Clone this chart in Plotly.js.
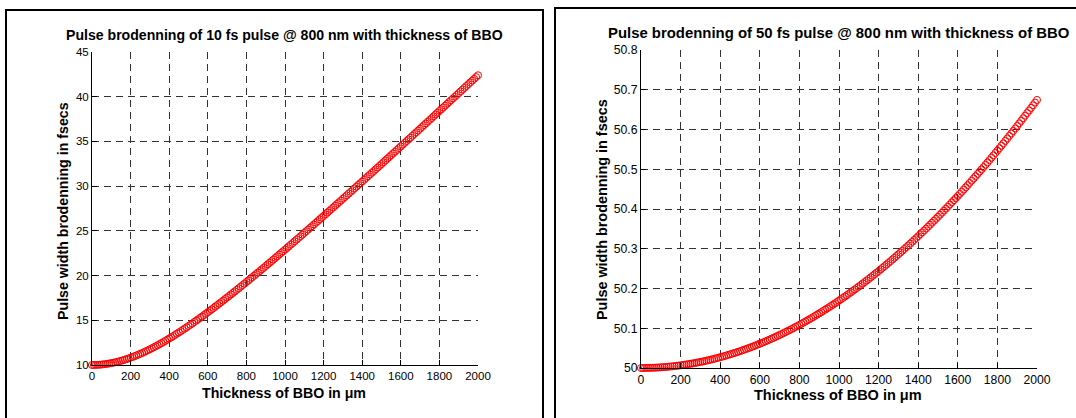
<!DOCTYPE html>
<html>
<head>
<meta charset="utf-8">
<script src="https://cdn.plot.ly/plotly-3.0.1.min.js"></script>
<style>html,body{margin:0;padding:0;background:#fff;}#chart{width:1076px;height:418px;}</style>
</head>
<body>
<div id="chart"></div>
<script>
// Thickness of BBO (µm), 10 µm steps
const thickness = [0,10,20,30,40,50,60,70,80,90,100,110,120,130,140,150,160,170,180,190,200,210,220,230,240,250,260,270,280,290,300,310,320,330,340,350,360,370,380,390,400,410,420,430,440,450,460,470,480,490,500,510,520,530,540,550,560,570,580,590,600,610,620,630,640,650,660,670,680,690,700,710,720,730,740,750,760,770,780,790,800,810,820,830,840,850,860,870,880,890,900,910,920,930,940,950,960,970,980,990,1000,1010,1020,1030,1040,1050,1060,1070,1080,1090,1100,1110,1120,1130,1140,1150,1160,1170,1180,1190,1200,1210,1220,1230,1240,1250,1260,1270,1280,1290,1300,1310,1320,1330,1340,1350,1360,1370,1380,1390,1400,1410,1420,1430,1440,1450,1460,1470,1480,1490,1500,1510,1520,1530,1540,1550,1560,1570,1580,1590,1600,1610,1620,1630,1640,1650,1660,1670,1680,1690,1700,1710,1720,1730,1740,1750,1760,1770,1780,1790,1800,1810,1820,1830,1840,1850,1860,1870,1880,1890,1900,1910,1920,1930,1940,1950,1960,1970,1980,1990,2000];

// Pulse width (fs) of the 10 fs pulse
const width10fs = [10.00,10.00,10.01,10.02,10.03,10.05,10.08,10.10,10.14,10.17,10.21,10.25,10.30,10.35,10.41,10.47,10.53,10.60,10.67,10.74,10.82,10.90,10.98,11.07,11.16,11.25,11.34,11.44,11.55,11.65,11.76,11.87,11.98,12.09,12.21,12.33,12.45,12.57,12.70,12.83,12.96,13.09,13.22,13.36,13.50,13.64,13.78,13.92,14.06,14.21,14.36,14.50,14.65,14.81,14.96,15.11,15.27,15.42,15.58,15.74,15.90,16.06,16.22,16.38,16.55,16.71,16.88,17.04,17.21,17.38,17.55,17.72,17.89,18.06,18.23,18.40,18.58,18.75,18.93,19.10,19.28,19.45,19.63,19.81,19.99,20.17,20.34,20.52,20.70,20.88,21.07,21.25,21.43,21.61,21.79,21.98,22.16,22.35,22.53,22.71,22.90,23.08,23.27,23.46,23.64,23.83,24.02,24.20,24.39,24.58,24.77,24.96,25.15,25.34,25.53,25.71,25.91,26.09,26.29,26.48,26.67,26.86,27.05,27.24,27.43,27.62,27.82,28.01,28.20,28.39,28.59,28.78,28.97,29.17,29.36,29.55,29.75,29.94,30.14,30.33,30.52,30.72,30.91,31.11,31.30,31.50,31.69,31.89,32.08,32.28,32.47,32.67,32.87,33.07,33.26,33.46,33.66,33.85,34.05,34.25,34.44,34.64,34.84,35.04,35.23,35.43,35.63,35.83,36.02,36.22,36.42,36.62,36.82,37.01,37.21,37.41,37.61,37.81,38.01,38.21,38.41,38.60,38.80,39.00,39.20,39.40,39.60,39.80,40.00,40.20,40.40,40.60,40.80,41.00,41.20,41.40,41.60,41.80,42.00,42.20,42.40];

// Pulse width (fs) of the 50 fs pulse
const width50fs = [50.0000,50.0000,50.0001,50.0002,50.0003,50.0004,50.0006,50.0008,50.0011,50.0014,50.0017,50.0021,50.0024,50.0029,50.0033,50.0038,50.0043,50.0049,50.0055,50.0061,50.0068,50.0075,50.0082,50.0090,50.0098,50.0106,50.0115,50.0124,50.0133,50.0143,50.0153,50.0163,50.0174,50.0185,50.0196,50.0208,50.0220,50.0232,50.0245,50.0258,50.0272,50.0285,50.0299,50.0314,50.0329,50.0344,50.0359,50.0375,50.0391,50.0407,50.0424,50.0441,50.0459,50.0477,50.0495,50.0513,50.0532,50.0551,50.0571,50.0591,50.0611,50.0631,50.0652,50.0673,50.0695,50.0717,50.0739,50.0761,50.0784,50.0808,50.0831,50.0855,50.0879,50.0904,50.0929,50.0954,50.0979,50.1005,50.1032,50.1058,50.1085,50.1112,50.1140,50.1168,50.1196,50.1225,50.1254,50.1283,50.1313,50.1343,50.1373,50.1404,50.1435,50.1466,50.1498,50.1530,50.1562,50.1595,50.1628,50.1661,50.1695,50.1729,50.1763,50.1798,50.1833,50.1868,50.1904,50.1940,50.1976,50.2013,50.2050,50.2087,50.2125,50.2163,50.2201,50.2240,50.2279,50.2318,50.2358,50.2398,50.2438,50.2479,50.2520,50.2561,50.2603,50.2645,50.2688,50.2730,50.2773,50.2817,50.2860,50.2905,50.2949,50.2994,50.3039,50.3084,50.3130,50.3176,50.3222,50.3269,50.3316,50.3363,50.3411,50.3459,50.3507,50.3556,50.3605,50.3655,50.3704,50.3754,50.3805,50.3855,50.3906,50.3958,50.4009,50.4061,50.4114,50.4167,50.4220,50.4273,50.4327,50.4381,50.4435,50.4490,50.4545,50.4600,50.4656,50.4712,50.4768,50.4825,50.4882,50.4939,50.4997,50.5054,50.5113,50.5171,50.5230,50.5290,50.5349,50.5409,50.5470,50.5530,50.5591,50.5652,50.5714,50.5776,50.5838,50.5901,50.5963,50.6027,50.6090,50.6154,50.6218,50.6283,50.6348,50.6413,50.6478,50.6544,50.6610,50.6677,50.6744];

const xTicks = [0,200,400,600,800,1000,1200,1400,1600,1800,2000];
const yTicksLeft = [10,15,20,25,30,35,40,45];
const yTicksRight = [50,50.1,50.2,50.3,50.4,50.5,50.6,50.7,50.8];
const yTickLabelsRight = ['50','50.1','50.2','50.3','50.4','50.5','50.6','50.7','50.8'];

const titleLeft = 'Pulse brodenning of 10 fs pulse @ 800 nm with thickness of BBO';
const titleRight = 'Pulse brodenning of 50 fs pulse @ 800 nm with thickness of BBO';
const xTitle = 'Thickness of BBO in μm';
const yTitle = 'Pulse width brodenning in fsecs';

const W = 1076, H = 418;
const px = v => v / W;
const py = v => 1 - v / H;
const FONT = 'Liberation Sans, Arial, sans-serif';

const marker = {symbol: 'circle-open', size: 7, color: '#ff0000', line: {width: 1, color: '#ff0000'}};

const traces = [
  {x: thickness, y: width10fs, type: 'scatter', mode: 'markers', marker: marker, xaxis: 'x', yaxis: 'y', cliponaxis: false},
  {x: thickness, y: width50fs, type: 'scatter', mode: 'markers', marker: marker, xaxis: 'x2', yaxis: 'y2', cliponaxis: false}
];

const axCommon = {
  showline: true, linecolor: '#000', linewidth: 1,
  ticks: 'inside', ticklen: 5, tickcolor: '#000',
  showgrid: true, gridcolor: '#333', gridwidth: 1, griddash: '7px,5px',
  zeroline: false, fixedrange: true
};
const tfL = {family: FONT, size: 11.5, color: '#000'};
const tfR = {family: FONT, size: 12.2, color: '#000'};

const ann = (text, x, y, size, extra) => Object.assign({
  text: text, xref: 'paper', yref: 'paper', x: x, y: y,
  xanchor: 'center', yanchor: 'middle', showarrow: false,
  font: {family: FONT, size: size, color: '#000'}
}, extra || {});

const layout = {
  width: W, height: H,
  margin: {l: 0, r: 0, t: 0, b: 0},
  paper_bgcolor: '#fff', plot_bgcolor: '#fff',
  showlegend: false,
  xaxis: Object.assign({}, axCommon, {domain: [px(92), px(478)], range: [0, 2000], tickvals: xTicks, anchor: 'y', tickfont: tfL}),
  yaxis: Object.assign({}, axCommon, {domain: [py(365), py(52)], range: [10, 45], tickvals: yTicksLeft, anchor: 'x', tickfont: tfL}),
  xaxis2: Object.assign({}, axCommon, {domain: [px(641), px(1037)], range: [0, 2000], tickvals: xTicks, anchor: 'y2', tickfont: tfR}),
  yaxis2: Object.assign({}, axCommon, {domain: [py(368), py(50)], range: [50, 50.8], tickvals: yTicksRight, ticktext: yTickLabelsRight, anchor: 'x2', tickfont: tfR}),
  shapes: [
    {type: 'rect', xref: 'paper', yref: 'paper', x0: px(6), x1: px(543), y0: -0.2, y1: py(10), line: {color: '#000', width: 2}},
    {type: 'rect', xref: 'paper', yref: 'paper', x0: px(555), x1: 1.2, y0: -0.2, y1: py(8), line: {color: '#000', width: 2}}
  ],
  annotations: [
    ann('<b>' + titleLeft + '</b>', px(284), py(35), 14.1),
    ann('<b>' + titleRight + '</b>', px(838), py(33), 14.9),
    ann('<b>' + xTitle + '</b>', px(284), py(393), 14.2),
    ann('<b>' + xTitle + '</b>', px(838), py(395), 14.5),
    ann('<b>' + yTitle + '</b>', px(63), py(211), 14.2, {textangle: -90}),
    ann('<b>' + yTitle + '</b>', px(602), py(210), 14.4, {textangle: -90})
  ]
};

Plotly.newPlot('chart', traces, layout, {staticPlot: true, displayModeBar: false});
</script>
</body>
</html>
